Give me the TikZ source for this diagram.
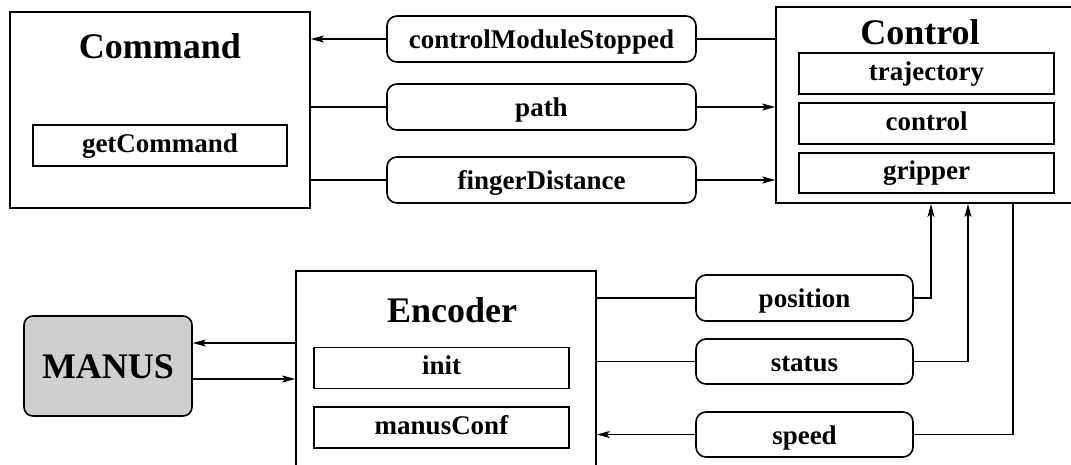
\documentclass[tikz,border=0pt]{standalone}
\usepackage{fontspec}
\setmainfont{Liberation Serif}
\usetikzlibrary{arrows.meta,calc}
\begin{document}
\begin{tikzpicture}[x=1pt,y=-1pt,
  bigbox/.style={draw,line width=1.6pt,inner sep=0pt},
  inbox/.style={draw,line width=1.6pt,inner sep=0pt,minimum width=255pt,minimum height=41pt,
    font=\fontsize{27}{30}\selectfont\bfseries,text height=13pt,text depth=0pt},
  pill/.style={draw,line width=1.6pt,rounded corners=10pt,inner sep=0pt,minimum height=46pt,
    font=\fontsize{27}{30}\selectfont\bfseries,text height=19pt,text depth=0pt},
  title/.style={anchor=base,inner sep=0pt,font=\fontsize{36}{40}\selectfont\bfseries},
  conn/.style={line width=1.1pt},
  arr/.style={line width=1.1pt,-{Stealth[length=13pt,width=7pt,inset=3pt]}}]
\useasboundingbox (0,0) rectangle (1071,464);
\clip (0,0) rectangle (1071,464);
% Command
\node[bigbox,minimum width=300pt,minimum height=196pt] (cmd) at (160,110) {};
\node[title] (cmdt) at (160,58) {Command};
\node[inbox,minimum width=254pt] (getc) at (160,145.5) {getCommand};
% Control
\node[bigbox,minimum width=301pt,minimum height=196pt] (ctl) at (926.5,105) {};
\node[title] (ctlt) at (920,44) {Control};
\node[inbox] (traj) at (926.5,73.5) {trajectory};
\node[inbox] (ctrl) at (926.5,123.5) {control};
\node[inbox,minimum height=40pt] (grip) at (926.5,173) {gripper};
% top pills
\node[pill,minimum width=309pt] (cms) at (541.5,39) {controlModuleStopped};
\node[pill,minimum width=309pt] (path) at (541.5,107) {path};
\node[pill,minimum width=309pt] (fd) at (541.5,180) {fingerDistance};
% Encoder
\node[bigbox,minimum width=300pt,minimum height=260pt] (enc) at (446,401) {};
\node[title] (enct) at (452,322) {Encoder};
\node[inbox] (init) at (441.5,368) {init};
\node[inbox] (mconf) at (441.5,427.5) {manusConf};
% MANUS
\node[draw,line width=1.6pt,rounded corners=9pt,fill=black!19,minimum width=168pt,minimum height=100pt,
  inner sep=0pt,font=\fontsize{36}{40}\selectfont\bfseries,text height=24pt,text depth=0pt] (manus) at (108,366) {MANUS};
% bottom pills
\node[pill,minimum width=217pt] (pos) at (804.5,298) {position};
\node[pill,minimum width=217pt,minimum height=45pt] (stat) at (804.5,361.5) {status};
\node[pill,minimum width=217pt,minimum height=45pt] (speed) at (804.5,434.5) {speed};
% connectors top
\draw[conn] (ctl.west |- cms.east) -- (cms.east);
\draw[arr] (cms.west) -- (cmd.east |- cms.west);
\draw[conn] (cmd.east |- path.west) -- (path.west);
\draw[arr] (path.east) -- (ctl.west |- path.east);
\draw[conn] (cmd.east |- fd.west) -- (fd.west);
\draw[arr] (fd.east) -- (ctl.west |- fd.east);
% connectors bottom
\coordinate (posin) at (931,204);
\coordinate (statin) at (968,204);
\coordinate (spout) at (1013,204);
\draw[conn] (enc.east |- pos.west) -- (pos.west);
\draw[arr] (pos.east) -| (posin);
\draw[conn] (enc.east |- stat.west) -- (stat.west);
\draw[arr] (stat.east) -| (statin);
\draw[conn] (spout) |- (speed.east);
\draw[arr] (speed.west) -- (enc.east |- speed.west);
% MANUS connectors
\coordinate (m1) at (296,343);
\coordinate (m2) at (192,379);
\draw[arr] (m1) -- (manus.east |- m1);
\draw[arr] (m2) -- (enc.west |- m2);
\end{tikzpicture}
\end{document}
